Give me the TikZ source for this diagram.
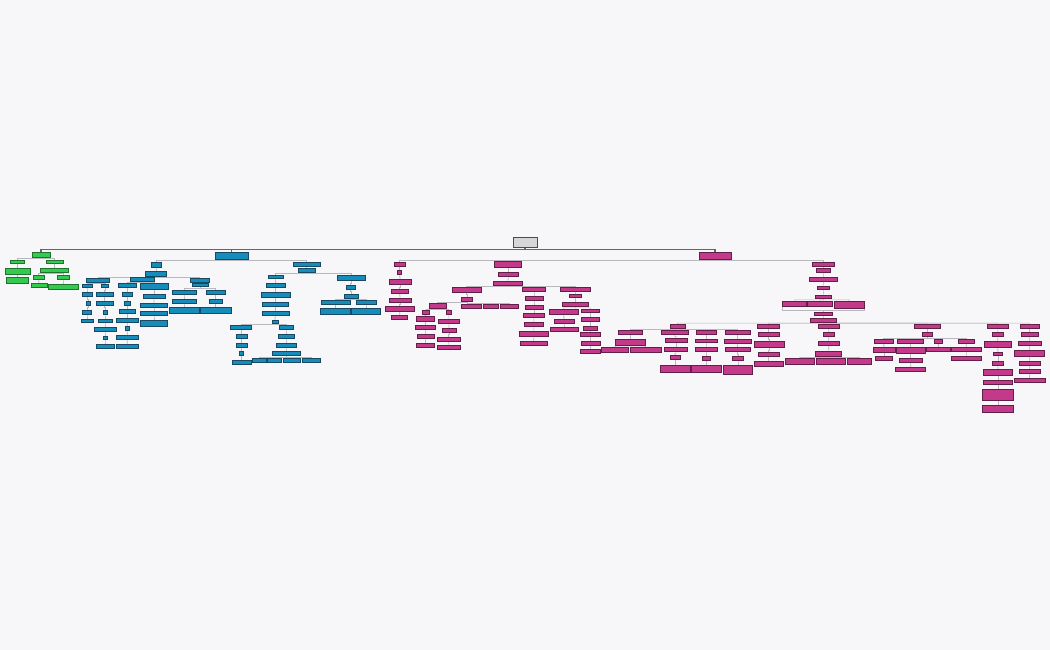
\documentclass[tikz,border=0pt]{standalone}
\usepackage{tikz}
\usetikzlibrary{calc, backgrounds}
\definecolor{cBack}{RGB}{247,247,249}
\definecolor{cRoot}{RGB}{214,214,216}
\definecolor{cGreen}{RGB}{52,201,79}
\definecolor{cGreenD}{RGB}{30,115,45}
\definecolor{cBlue}{RGB}{22,140,186}
\definecolor{cBlueD}{RGB}{24,72,98}
\definecolor{cPink}{RGB}{196,58,138}
\definecolor{cPinkD}{RGB}{98,32,72}
\definecolor{cTwig}{RGB}{184,184,190}
\tikzset{
	leaf/.style={rectangle, inner sep=0pt, line width=0.5pt},
	gr/.style 2 args={leaf, draw=cGreenD, fill=cGreen, minimum width=#1pt, minimum height=#2pt},
	bl/.style 2 args={leaf, draw=cBlueD, fill=cBlue, minimum width=#1pt, minimum height=#2pt},
	pk/.style 2 args={leaf, draw=cPinkD, fill=cPink, minimum width=#1pt, minimum height=#2pt},
	twig/.style={draw=cTwig, line width=0.6pt},
	trunk/.style={draw=black!60, line width=1.2pt},
}
\newcommand{\branchto}[3][twig]{\draw[#1] (#2.south) -- ($(#2.south)!.5!(#2.south|-#3.north)$) -| (#3.north);}

\begin{document}
\begin{tikzpicture}[x=1pt, y=-1pt]
	\node[leaf, draw=black!70, fill=cRoot, minimum width=24pt, minimum height=10pt] (root) at (525,242) {};
	% green branch
	\node[gr={18}{5}] (g) at (41,255) {};
	\node[gr={14}{3.5}] (ga) at (17,261.5) {};
	\node[gr={17}{3.5}] (gb) at (54.5,261.5) {};
	\node[gr={25}{6}] (ga1) at (17.5,271) {};
	\node[gr={22}{6}] (ga2) at (17,280) {};
	\node[gr={28}{4}] (gb1) at (54,270) {};
	\node[gr={11}{4}] (gb1a) at (38.7,277) {};
	\node[gr={12}{4}] (gb1b) at (63,277) {};
	\node[gr={16}{4}] (gb1a1) at (39,285.7) {};
	\node[gr={30}{5}] (gb1b1) at (63,286.3) {};
	% blue branch
	\node[bl={33}{7}] (b) at (231.5,255.5) {};
	\node[bl={10}{4.5}] (b1) at (156,264.5) {};
	\node[bl={21}{4.5}] (b1x) at (156,273.7) {};
	\node[bl={23}{4}] (c1) at (98,280) {};
	\node[bl={24}{4}] (c2) at (142,279.7) {};
	\node[bl={19}{4}] (c3) at (199.5,280) {};
	\node[bl={10}{3.5}] (c1a) at (87,285.7) {};
	\node[bl={7}{3.5}] (c1b) at (105,285.7) {};
	\node[bl={10}{3.5}] (c1a1) at (87,294.3) {};
	\node[bl={4.5}{3.5}] (c1a2) at (88,303.3) {};
	\node[bl={9}{3.5}] (c1a3) at (87,312) {};
	\node[bl={12}{3.5}] (c1a4) at (87,320.5) {};
	\node[bl={17}{3.5}] (c1b1) at (104.5,294.3) {};
	\node[bl={17}{3.5}] (c1b2) at (104.5,303) {};
	\node[bl={4}{3.5}] (c1b3) at (105,312) {};
	\node[bl={14}{3.5}] (c1b4) at (105,320.5) {};
	\node[bl={22}{4}] (c1b5) at (105,329.3) {};
	\node[bl={4}{3.5}] (c1b6) at (105,337.7) {};
	\node[bl={18}{4}] (c1b7) at (105,346) {};
	\node[bl={18.3}{4}] (c2a) at (127.5,285.7) {};
	\node[bl={28}{5.6}] (c2b) at (154,286.5) {};
	\node[bl={10}{4}] (c2a1) at (127.5,294.7) {};
	\node[bl={6}{4}] (c2a2) at (127.5,303) {};
	\node[bl={16}{4}] (c2a3) at (127.5,311.3) {};
	\node[bl={22}{4}] (c2a4) at (127.2,320) {};
	\node[bl={4.5}{4}] (c2a5) at (127.2,328.7) {};
	\node[bl={22}{4}] (c2a6) at (127.2,337.3) {};
	\node[bl={22}{4}] (c2a7) at (127.2,346) {};
	\node[bl={22}{4}] (c2b1) at (153.8,296.3) {};
	\node[bl={26.6}{4}] (c2b2) at (154,305) {};
	\node[bl={26.6}{4}] (c2b3) at (154,313.7) {};
	\node[bl={26.6}{5.7}] (c2b4) at (154,323.2) {};
	\node[bl={16}{3.7}] (c3a) at (200,284.8) {};
	\node[bl={24}{4}] (c3a1) at (184,292) {};
	\node[bl={19}{4}] (c3a2) at (215.5,292) {};
	\node[bl={24}{3.7}] (c3a1a) at (184,301) {};
	\node[bl={13}{3.7}] (c3a2a) at (215.5,301) {};
	\node[bl={30}{6}] (c3a1b) at (184,310) {};
	\node[bl={31}{6}] (c3a2b) at (215.5,310) {};
	\node[bl={27}{4.5}] (b2) at (306.5,264) {};
	\node[bl={17}{4}] (b2x) at (306.5,270.3) {};
	\node[bl={15}{3.5}] (d1) at (275.3,276.7) {};
	\node[bl={28}{5}] (d2) at (351,277.5) {};
	\node[bl={19}{3.7}] (d1a) at (275.5,285) {};
	\node[bl={29}{5.7}] (d1b) at (275.5,294.8) {};
	\node[bl={26}{4.4}] (d1c) at (275,304.5) {};
	\node[bl={27}{4.3}] (d1d) at (275.3,313) {};
	\node[bl={6}{3.3}] (d1e) at (275,321.7) {};
	\node[bl={21}{3.6}] (e1) at (241,327.5) {};
	\node[bl={14}{3.6}] (e2) at (286,327.5) {};
	\node[bl={11.5}{3.7}] (e1a) at (241.5,336) {};
	\node[bl={11.5}{3.7}] (e1b) at (241.5,345) {};
	\node[bl={4.3}{3.3}] (e1c) at (241,353.3) {};
	\node[bl={19}{3.7}] (e1d) at (241.3,362) {};
	\node[bl={16}{4}] (e2a) at (286,336.3) {};
	\node[bl={19.7}{4}] (e2b) at (286,345) {};
	\node[bl={28}{4}] (e2c) at (286,353.7) {};
	\node[bl={14}{3.7}] (f1) at (259,360.2) {};
	\node[bl={14.7}{3.7}] (f2) at (274.3,360.2) {};
	\node[bl={17}{3.7}] (f3) at (291.5,360.2) {};
	\node[bl={18}{3.7}] (f4) at (311,360.2) {};
	\node[bl={9.3}{3.3}] (d2a) at (350.5,287.3) {};
	\node[bl={13.7}{3.7}] (d2b) at (351,296) {};
	\node[bl={29}{3.7}] (d2c) at (335.5,302) {};
	\node[bl={20}{3.7}] (d2d) at (366,302) {};
	\node[bl={30}{5.7}] (d2c1) at (335,311) {};
	\node[bl={29}{5.7}] (d2d1) at (366,311) {};
	% pink branch
	\node[pk={32}{6.7}] (p) at (715,255.8) {};
	\node[pk={11}{4.3}] (p1) at (399.5,264) {};
	\node[pk={4}{3.6}] (p1a) at (399.7,272.5) {};
	\node[pk={21.7}{5}] (p1b) at (400,281.8) {};
	\node[pk={17.3}{4}] (p1c) at (399.7,291.3) {};
	\node[pk={22}{4.3}] (p1d) at (400,300) {};
	\node[pk={29.3}{4.3}] (p1e) at (399.7,308.8) {};
	\node[pk={16}{4}] (p1f) at (399.7,317.7) {};
	\node[pk={27.4}{5.6}] (p2) at (508,264.5) {};
	\node[pk={20}{4}] (p2a) at (508.3,274.7) {};
	\node[pk={29.4}{4.7}] (p2b) at (508,283.3) {};
	\node[pk={29}{4.5}] (q1) at (466.5,289.5) {};
	\node[pk={23.4}{4}] (q2) at (534,289.7) {};
	\node[pk={30}{4}] (q3) at (575,289.7) {};
	\node[pk={11}{4}] (q1a) at (467,299.7) {};
	\node[pk={16.7}{4.6}] (r1) at (437.7,306) {};
	\node[pk={20}{4.3}] (r2) at (471.7,306.2) {};
	\node[pk={15}{4.3}] (r3) at (490.8,306.2) {};
	\node[pk={18.3}{4.3}] (r4) at (509.2,306.2) {};
	\node[pk={6.3}{3.6}] (r1a) at (425.8,312.5) {};
	\node[pk={5.7}{3.6}] (r1b) at (448.8,312.5) {};
	\node[pk={18.3}{4.3}] (r1a1) at (425,318.8) {};
	\node[pk={19.3}{3.6}] (r1a2) at (425.3,327.5) {};
	\node[pk={16.7}{4}] (r1a3) at (425.7,336.3) {};
	\node[pk={17.6}{4}] (r1a4) at (425.5,345) {};
	\node[pk={21}{4.4}] (r1b1) at (448.8,321.5) {};
	\node[pk={13.7}{4}] (r1b2) at (449,330.3) {};
	\node[pk={22.7}{4}] (r1b3) at (448.7,339) {};
	\node[pk={22.3}{4}] (r1b4) at (448.8,347) {};
	\node[pk={18.3}{4}] (q2a) at (534,298) {};
	\node[pk={17.7}{4.3}] (q2b) at (534,307) {};
	\node[pk={21}{3.6}] (q2c) at (533.8,315.5) {};
	\node[pk={19}{3.7}] (q2d) at (533.8,324) {};
	\node[pk={29}{5.7}] (q2e) at (533.8,333.8) {};
	\node[pk={27.3}{4}] (q2f) at (533.7,343) {};
	\node[pk={12}{3.7}] (q3a) at (575,295.8) {};
	\node[pk={26}{4.4}] (q3b) at (575.3,304.5) {};
	\node[pk={29.3}{5.3}] (s1) at (563.7,311.7) {};
	\node[pk={17.6}{3.7}] (s2) at (590.5,310.8) {};
	\node[pk={20.3}{4}] (s1a) at (564,321.3) {};
	\node[pk={28.3}{4}] (s1b) at (564,329.7) {};
	\node[pk={17.6}{4}] (s2a) at (590.5,319.7) {};
	\node[pk={14.4}{4}] (s2b) at (590.5,328) {};
	\node[pk={20.3}{4.4}] (s2c) at (590,334.5) {};
	\node[pk={19}{4}] (s2d) at (590.5,343) {};
	\node[pk={20}{4}] (s2e) at (590.7,351.3) {};
	\node[pk={22}{3.7}] (p3) at (823,264.2) {};
	\node[pk={13.3}{4}] (p3a) at (823.3,270.3) {};
	\node[pk={28}{4.4}] (p3b) at (823.3,279.5) {};
	\node[pk={12}{3.7}] (p3c) at (823.3,287.8) {};
	\node[pk={16.7}{3.7}] (p3d) at (823.3,296.8) {};
	\node[pk={23.3}{5.7}] (t1) at (794.3,303.8) {};
	\node[pk={25}{5.7}] (t2) at (820,303.8) {};
	\node[pk={30}{7.3}] (t3) at (849,304.7) {};
	\node[pk={18.7}{3.4}] (t4) at (823.3,314) {};
	\node[pk={26.7}{4}] (t5) at (823.3,320.3) {};
	\node[pk={15}{4.3}] (u1) at (677.5,326.2) {};
	\node[pk={22}{4}] (u2) at (768.5,326) {};
	\node[pk={21}{4.3}] (u3) at (828.7,326) {};
	\node[pk={26}{4.3}] (u4) at (927,326) {};
	\node[pk={21}{4.3}] (u5) at (997.8,326) {};
	\node[pk={19}{4.3}] (u6) at (1029.5,326) {};
	\node[pk={24.4}{3.6}] (v1) at (630.5,332.5) {};
	\node[pk={27.3}{3.6}] (v2) at (674.7,332.5) {};
	\node[pk={20}{3.3}] (v3) at (706,332.3) {};
	\node[pk={25}{3.3}] (v4) at (737.5,332.3) {};
	\node[pk={30.7}{5.7}] (v1a) at (630.3,342) {};
	\node[pk={26.6}{5.4}] (v1a1) at (615,350) {};
	\node[pk={31}{5.4}] (v1a2) at (645.5,350) {};
	\node[pk={22.3}{4.4}] (v2a) at (676,340.5) {};
	\node[pk={23}{4.4}] (v2b) at (675.8,349.5) {};
	\node[pk={10}{3.6}] (v2c) at (675,357.5) {};
	\node[pk={29.3}{7.7}] (v2d) at (675.3,368.8) {};
	\node[pk={22.7}{3.7}] (v3a) at (706.3,340.8) {};
	\node[pk={22.7}{3.6}] (v3b) at (706.3,349.5) {};
	\node[pk={8.4}{3.3}] (v3c) at (706.5,358.3) {};
	\node[pk={30}{7.7}] (v3d) at (706,368.8) {};
	\node[pk={26.7}{4}] (v4a) at (737.7,341) {};
	\node[pk={25}{4}] (v4b) at (737.5,349.7) {};
	\node[pk={10.6}{3.3}] (v4c) at (738,358.3) {};
	\node[pk={29.4}{9}] (v4d) at (738,369.5) {};
	\node[pk={21}{4}] (u2a) at (768.5,334.7) {};
	\node[pk={30}{5.7}] (u2b) at (769,344.5) {};
	\node[pk={21}{3.7}] (u2c) at (768.5,354.2) {};
	\node[pk={29}{5.7}] (u2d) at (768.5,363.8) {};
	\node[pk={10.7}{4}] (u3a) at (828.7,334.7) {};
	\node[pk={20.7}{4}] (u3b) at (828.7,343.7) {};
	\node[pk={25.3}{5.7}] (u3c) at (828.3,353.8) {};
	\node[pk={29.3}{5.7}] (w1) at (799.7,361.2) {};
	\node[pk={29.7}{5.7}] (w2) at (830.8,361.2) {};
	\node[pk={24.4}{5.7}] (w3) at (859.5,361.2) {};
	\node[pk={10.4}{4}] (u4a) at (927.5,334.7) {};
	\node[pk={19.3}{4.3}] (x1) at (883.7,341.2) {};
	\node[pk={25.6}{4.3}] (x2) at (910.5,341.2) {};
	\node[pk={8.4}{4.3}] (x3) at (938.5,341.2) {};
	\node[pk={15.7}{4.3}] (x4) at (966.2,341.2) {};
	\node[pk={21.7}{4.3}] (x1a) at (884,349.8) {};
	\node[pk={17.7}{4}] (x1b) at (883.8,358.7) {};
	\node[pk={29}{5.6}] (x2a) at (910.5,350.5) {};
	\node[pk={23.3}{4}] (x2b) at (910.7,360.3) {};
	\node[pk={30}{4}] (x2c) at (910.7,369) {};
	\node[pk={23.3}{4}] (x3a) at (938.3,349.7) {};
	\node[pk={30.7}{4}] (x4a) at (966.3,349.7) {};
	\node[pk={30.7}{4}] (x4b) at (966.3,358.7) {};
	\node[pk={11}{4}] (u5a) at (997.8,334.7) {};
	\node[pk={26.7}{5.6}] (u5b) at (997.7,344.5) {};
	\node[pk={9.4}{3.4}] (u5c) at (998,354) {};
	\node[pk={11}{4}] (u5d) at (997.8,363) {};
	\node[pk={29.4}{5.3}] (u5e) at (998,372.3) {};
	\node[pk={29.4}{4}] (u5f) at (998,382.3) {};
	\node[pk={30.6}{11}] (u5g) at (998,394.5) {};
	\node[pk={30.6}{7.3}] (u5h) at (998,408.7) {};
	\node[pk={17.3}{4}] (u6a) at (1029.7,334.7) {};
	\node[pk={22.7}{4}] (u6b) at (1029.7,343.7) {};
	\node[pk={30}{6}] (u6c) at (1029.3,353.3) {};
	\node[pk={20.7}{4}] (u6d) at (1029.7,363) {};
	\node[pk={20.7}{4}] (u6e) at (1029.7,371.7) {};
	\node[pk={31}{4}] (u6f) at (1029.5,380.3) {};
	% connectors, behind the boxes
	\begin{scope}[on background layer]
	\fill[cBack] (0,0) rectangle (1050,650);
	\foreach \c in {g,b,p} {\branchto[trunk]{root}{\c}}
	\foreach \a/\c in {g/ga, g/gb, ga/ga1, ga1/ga2, gb/gb1, gb1/gb1a, gb1/gb1b, gb1a/gb1a1, gb1b/gb1b1}
		{\branchto{\a}{\c}}
	\foreach \a/\c in {b/b1, b/b2, b1/b1x, b1x/c1, b1x/c2, b1x/c3, c1/c1a, c1/c1b,
		c1a/c1a1, c1a1/c1a2, c1a2/c1a3, c1a3/c1a4, c1b/c1b1, c1b1/c1b2, c1b2/c1b3, c1b3/c1b4,
		c1b4/c1b5, c1b5/c1b6, c1b6/c1b7, c2/c2a, c2/c2b, c2a/c2a1, c2a1/c2a2, c2a2/c2a3,
		c2a3/c2a4, c2a4/c2a5, c2a5/c2a6, c2a6/c2a7, c2b/c2b1, c2b1/c2b2, c2b2/c2b3, c2b3/c2b4,
		c3/c3a, c3a/c3a1, c3a/c3a2, c3a1/c3a1a, c3a1a/c3a1b, c3a2/c3a2a, c3a2a/c3a2b,
		b2/b2x, b2x/d1, b2x/d2, d1/d1a, d1a/d1b, d1b/d1c, d1c/d1d, d1d/d1e, d1e/e1, d1e/e2,
		e1/e1a, e1a/e1b, e1b/e1c, e1c/e1d, e2/e2a, e2a/e2b, e2b/e2c, e2c/f1, e2c/f2, e2c/f3,
		e2c/f4, d2/d2a, d2a/d2b, d2b/d2c, d2b/d2d, d2c/d2c1, d2d/d2d1}
		{\branchto{\a}{\c}}
	\foreach \a/\c in {p/p1, p/p2, p/p3, p1/p1a, p1a/p1b, p1b/p1c, p1c/p1d, p1d/p1e, p1e/p1f,
		p2/p2a, p2a/p2b, p2b/q1, p2b/q2, p2b/q3, q1/q1a, q1a/r1, q1a/r2, q1a/r3, q1a/r4,
		r1/r1a, r1/r1b, r1a/r1a1, r1a1/r1a2, r1a2/r1a3, r1a3/r1a4, r1b/r1b1, r1b1/r1b2,
		r1b2/r1b3, r1b3/r1b4, q2/q2a, q2a/q2b, q2b/q2c, q2c/q2d, q2d/q2e, q2e/q2f,
		q3/q3a, q3a/q3b, q3b/s1, q3b/s2, s1/s1a, s1a/s1b, s2/s2a, s2a/s2b, s2b/s2c,
		s2c/s2d, s2d/s2e, p3/p3a, p3a/p3b, p3b/p3c, p3c/p3d, p3d/t1, p3d/t2, p3d/t3}
		{\branchto{\a}{\c}}
	\foreach \a/\c in {t4/t5, t5/u1, t5/u2, t5/u3, t5/u4, t5/u5, t5/u6,
		u1/v1, u1/v2, u1/v3, u1/v4, v1/v1a, v1a/v1a1, v1a/v1a2, v2/v2a, v2a/v2b, v2b/v2c,
		v2c/v2d, v3/v3a, v3a/v3b, v3b/v3c, v3c/v3d, v4/v4a, v4a/v4b, v4b/v4c, v4c/v4d,
		u2/u2a, u2a/u2b, u2b/u2c, u2c/u2d, u3/u3a, u3a/u3b, u3b/u3c, u3c/w1, u3c/w2, u3c/w3,
		u4/u4a, u4a/x1, u4a/x2, u4a/x3, u4a/x4, x1/x1a, x1a/x1b, x2/x2a, x2a/x2b, x2b/x2c,
		x3/x3a, x4/x4a, x4a/x4b, u5/u5a, u5a/u5b, u5b/u5c, u5c/u5d, u5d/u5e, u5e/u5f,
		u5f/u5g, u5g/u5h, u6/u6a, u6a/u6b, u6b/u6c, u6c/u6d, u6d/u6e, u6e/u6f}
		{\branchto{\a}{\c}}
	% group line under t1..t3
	\coordinate (tjoin) at (823.3,310);
	\draw[twig] (t1.south west) -- (t1.south west|-tjoin) -- (t3.south east|-tjoin) -- (t3.south east);
	\draw[twig] (tjoin) -- (t4.north);
	\end{scope}
\end{tikzpicture}
\end{document}
